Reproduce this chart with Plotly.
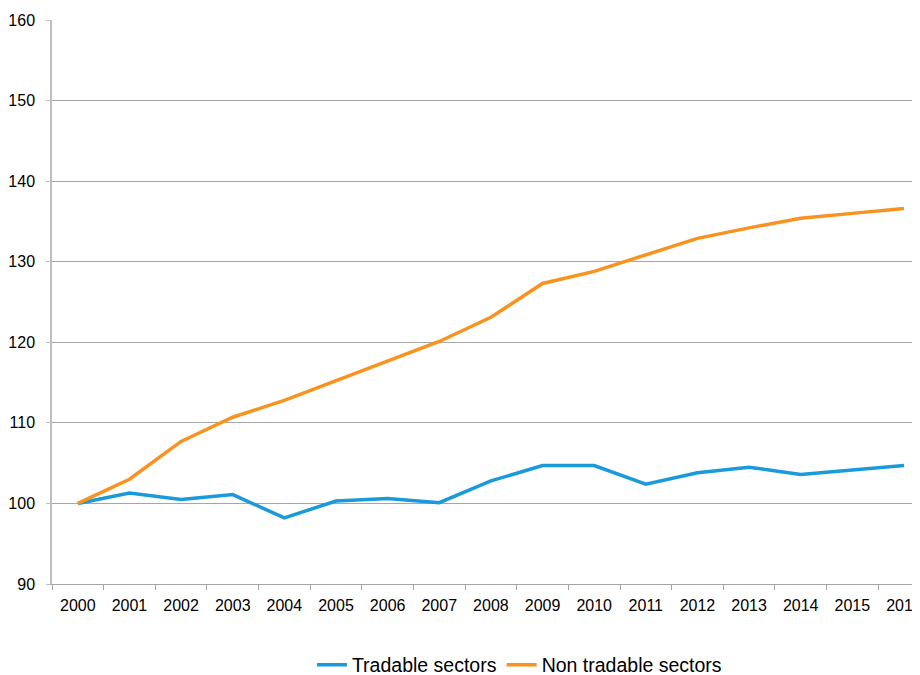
import plotly.graph_objects as go

years = [str(y) for y in range(2000, 2017)]
tradable = [100, 101.3, 100.5, 101.1, 98.2, 100.3, 100.6, 100.1, 102.8, 104.7,
            104.7, 102.4, 103.8, 104.5, 103.6, 104.1, 104.7]
non_tradable = [100, 103.0, 107.7, 110.7, 112.8, 115.2, 117.7, 120.1, 123.1, 127.3,
                128.8, 130.9, 132.9, 134.2, 135.4, 136.0, 136.6]
y_ticks = [90, 100, 110, 120, 130, 140, 150, 160]

fig = go.Figure()
fig.add_trace(go.Scatter(x=years, y=tradable, mode="lines", name="Tradable sectors",
                         line=dict(color="#1A9ADA", width=3.5)))
fig.add_trace(go.Scatter(x=years, y=non_tradable, mode="lines", name="Non tradable sectors",
                         line=dict(color="#F7931E", width=3.5)))

fig.update_layout(
    width=912, height=667,
    margin=dict(l=44, r=0, t=11.5, b=91),
    paper_bgcolor="white", plot_bgcolor="white",
    font=dict(family="Liberation Sans, Arial, sans-serif", size=16, color="#000000"),
    showlegend=True,
    legend=dict(orientation="h", x=0.5385, xanchor="center",
                yref="container", y=0.015, yanchor="middle",
                font=dict(size=19.5), itemwidth=30, tracegroupgap=0),
    xaxis=dict(type="category", range=[-0.5, 16.31], tickson="boundaries",
               ticks="outside", ticklen=5, tickcolor="#A6A6A6", showgrid=False,
               showline=True, linecolor="#A6A6A6", linewidth=1, automargin=False,
               ticklabeloverflow="allow", ticklabelstandoff=7, tickfont=dict(size=16)),
    yaxis=dict(range=[90, 160], tickvals=y_ticks, ticks="outside", ticklen=4,
               tickcolor="#BFBFBF", showgrid=True, gridcolor="#A6A6A6", gridwidth=1,
               showline=True, linecolor="#BFBFBF", linewidth=1.5, zeroline=False,
               automargin=False, ticklabelstandoff=8, tickfont=dict(size=16)),
)

fig.write_html("out.html")
